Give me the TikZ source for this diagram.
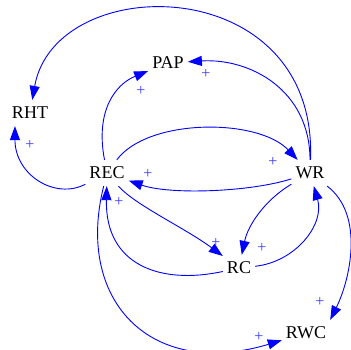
\documentclass[tikz,border=0pt]{standalone}
\usepackage{fontspec}
\setmainfont{Liberation Serif}
\usetikzlibrary{arrows.meta}
\definecolor{plusblue}{RGB}{60,60,255}
\begin{document}
\begin{tikzpicture}[x=1pt,y=-1pt,
  var/.style={inner xsep=4pt, inner ysep=7pt, text depth=0pt, font=\fontsize{18}{20}\selectfont},
  pl/.style={text=plusblue, font=\fontsize{16}{18}\selectfont, inner sep=0pt},
  link/.style={draw=blue, line width=0.9pt, -{Triangle[length=14pt,width=10pt]}}]
\useasboundingbox (0,0) rectangle (351,350);
\clip (0,0) rectangle (351,350);

\node[var] (PAP) at (168,63) {PAP};
\node[var] (RHT) at (30,113) {RHT};
\node[var] (REC) at (107,173) {REC};
\node[var] (WR)  at (310,173) {WR};
\node[var] (RC)  at (239,268) {RC};
\node[var] (RWC) at (306,333) {RWC};

% connectors
\draw[link] (WR) .. controls (318,-30) and (55,-30) .. (RHT);
\draw[link] (WR) .. controls (310,90) and (250,58) .. (PAP);
\draw[link] (REC) .. controls (95,110) and (116,84) .. (PAP);
\draw[link] (REC) .. controls (55,200) and (15,175) .. (RHT.221);
\draw[link] (REC) .. controls (148,118) and (258,118) .. (WR);
\draw[link] (WR) .. controls (250,192) and (170,195) .. (REC);
\draw[link] (REC) .. controls (135,205) and (185,228) .. (RC);
\draw[link] (RC) .. controls (160,285) and (105,265) .. (REC);
\draw[link] (WR) .. controls (265,200) and (248,225) .. (RC);
\draw[link] (RC) .. controls (295,262) and (325,225) .. (WR);
\draw[link] (WR) .. controls (365,215) and (350,280) .. (RWC.north east);
\draw[link] (REC) .. controls (75,300) and (150,380) .. (RWC);

% polarity labels
\node[pl] (p1)  at (206,74)  {+};
\node[pl] (p2)  at (141,91)  {+};
\node[pl] (p3)  at (30,145)  {+};
\node[pl] (p4)  at (273,162) {+};
\node[pl] (p5)  at (148,174) {+};
\node[pl] (p6)  at (119,202) {+};
\node[pl] (p7)  at (216,243) {+};
\node[pl] (p8)  at (262,248) {+};
\node[pl] (p9)  at (320,302) {+};
\node[pl] (p10) at (259,337) {+};
\end{tikzpicture}
\end{document}
